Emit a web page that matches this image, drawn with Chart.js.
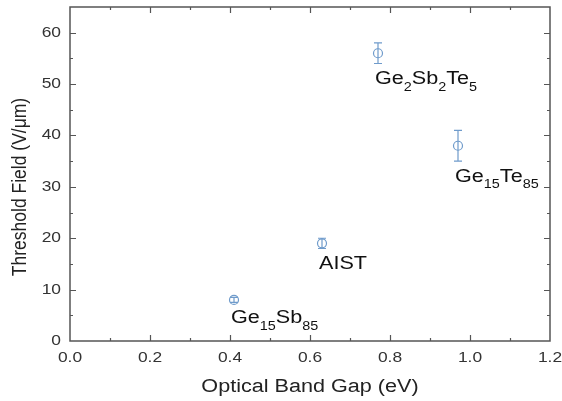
<!DOCTYPE html>
<html>
<head>
<meta charset="utf-8">
<script src="https://cdn.jsdelivr.net/npm/chart.js@4"></script>
<style>
  html, body { margin: 0; padding: 0; background: #fff; }
  #wrap { width: 562px; height: 401px; }
</style>
</head>
<body>
<div id="wrap"><canvas id="chart"></canvas></div>
<script>
// data
const materials = ['Ge_15Sb_85', 'AIST', 'Ge_2Sb_2Te_5', 'Ge_15Te_85'];
const bandGap = [0.41, 0.63, 0.77, 0.97];
const thresholdField = [8, 19, 56, 38];
const fieldError = [0.5, 1, 2, 3];

const xTicks = [0, 0.2, 0.4, 0.6, 0.8, 1.0, 1.2];
const yTicks = [0, 10, 20, 30, 40, 50, 60];
const xTitle = 'Optical Band Gap (eV)';
const yTitle = 'Threshold Field (V/μm)';

const markerColor = '#6f9bcb';
const axisColor = '#555';
const font = '"Liberation Sans", Arial, sans-serif';
const stretch = 1.2; // the source text is a bit wide

// text drawn a little wider than the font, like the original
function wideText(ctx, text, x, y, size, align, color) {
  ctx.save();
  ctx.font = size + 'px ' + font;
  ctx.fillStyle = color;
  ctx.textBaseline = 'middle';
  ctx.textAlign = align;
  ctx.translate(x, y);
  ctx.scale(stretch, 1);
  ctx.fillText(text, 0, 0);
  const w = ctx.measureText(text).width * stretch;
  ctx.restore();
  return w;
}

const extrasPlugin = {
  id: 'extras',
  afterDatasetsDraw(chart) {
    const { ctx, chartArea: a, scales: { x, y } } = chart;
    ctx.save();

    // error bars
    ctx.strokeStyle = markerColor;
    ctx.lineWidth = 1.2;
    bandGap.forEach((bg, i) => {
      const px = x.getPixelForValue(bg);
      const top = y.getPixelForValue(thresholdField[i] + fieldError[i]);
      const bot = y.getPixelForValue(thresholdField[i] - fieldError[i]);
      ctx.beginPath();
      ctx.moveTo(px, top); ctx.lineTo(px, bot);
      ctx.moveTo(px - 4, top); ctx.lineTo(px + 4, top);
      ctx.moveTo(px - 4, bot); ctx.lineTo(px + 4, bot);
      ctx.stroke();
    });

    // frame
    ctx.strokeStyle = axisColor;
    ctx.lineWidth = 1.5;
    ctx.strokeRect(a.left, a.top, a.right - a.left, a.bottom - a.top);

    // inward ticks on all sides (major + minor)
    ctx.lineWidth = 1.2;
    ctx.beginPath();
    for (let k = 1; k < 12; k++) {
      const px = Math.round(x.getPixelForValue(k / 10)) + 0.5;
      const len = k % 2 === 0 ? 6 : 3;
      ctx.moveTo(px, a.bottom); ctx.lineTo(px, a.bottom - len);
      ctx.moveTo(px, a.top); ctx.lineTo(px, a.top + len);
    }
    for (let v = 5; v < 65; v += 5) {
      const py = Math.round(y.getPixelForValue(v)) + 0.5;
      const len = v % 10 === 0 ? 6 : 3;
      ctx.moveTo(a.left, py); ctx.lineTo(a.left + len, py);
      ctx.moveTo(a.right, py); ctx.lineTo(a.right - len, py);
    }
    ctx.stroke();
    ctx.restore();

    // tick labels
    xTicks.forEach(v => wideText(ctx, v.toFixed(1), x.getPixelForValue(v), a.bottom + 17, 14.5, 'center', '#333'));
    yTicks.forEach(v => wideText(ctx, String(v), a.left - 9, y.getPixelForValue(v), 14.5, 'right', '#333'));

    // axis titles
    wideText(ctx, xTitle, (a.left + a.right) / 2, a.bottom + 46, 18, 'center', '#222');
    ctx.save();
    ctx.translate(20, 187);
    ctx.scale(stretch, 1);
    ctx.rotate(-Math.PI / 2);
    ctx.font = '17.5px ' + font;
    ctx.fillStyle = '#222';
    ctx.textAlign = 'center';
    ctx.textBaseline = 'middle';
    ctx.fillText(yTitle, 0, 0);
    ctx.restore();

    // labels under each point, with subscripts
    materials.forEach((name, i) => {
      let cx = x.getPixelForValue(bandGap[i]) - 3;
      const cy = y.getPixelForValue(thresholdField[i] - fieldError[i]) + 16;
      name.split(/_(\d+)/).forEach((part, k) => {
        if (!part) return;
        const sub = k % 2 === 1;
        cx += wideText(ctx, part, cx, sub ? cy + 8 : cy, sub ? 12 : 18, 'left', '#111');
      });
    });
  }
};

new Chart(document.getElementById('chart'), {
  type: 'scatter',
  data: {
    datasets: [{
      data: bandGap.map((bg, i) => ({ x: bg, y: thresholdField[i] })),
      pointStyle: 'circle',
      pointRadius: 4.5,
      pointBorderWidth: 1.2,
      pointBorderColor: markerColor,
      pointBackgroundColor: 'rgba(0,0,0,0)'
    }]
  },
  options: {
    responsive: true,
    maintainAspectRatio: false,
    animation: false,
    layout: { padding: { top: 7, right: 12, left: 0, bottom: 0 } },
    plugins: { legend: { display: false }, tooltip: { enabled: false } },
    scales: {
      x: {
        type: 'linear',
        min: 0, max: 1.2,
        afterBuildTicks: s => { s.ticks = xTicks.map(v => ({ value: v })); },
        afterFit: s => { s.height = 60; s.paddingLeft = 0; s.paddingRight = 0; },
        grid: { display: false },
        border: { display: false },
        ticks: { display: false }
      },
      y: {
        type: 'linear',
        min: 0, max: 65,
        afterBuildTicks: s => { s.ticks = yTicks.map(v => ({ value: v })); },
        afterFit: s => { s.width = 70; s.paddingTop = 0; s.paddingBottom = 0; },
        grid: { display: false },
        border: { display: false },
        ticks: { display: false }
      }
    }
  },
  plugins: [extrasPlugin]
});
</script>
</body>
</html>
